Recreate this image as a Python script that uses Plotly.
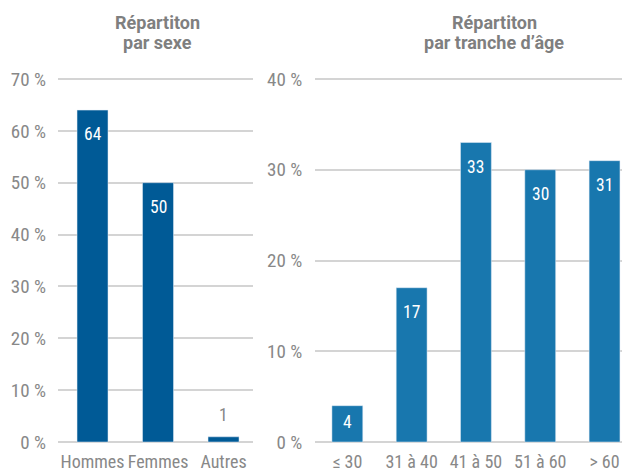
import plotly.graph_objects as go

sexe_categories = ["Hommes", "Femmes", "Autres"]
sexe_values = [64, 50, 1]
age_categories = ["≤ 30", "31 à 40", "41 à 50", "51 à 60", "> 60"]
age_values = [4, 17, 33, 30, 31]
sexe_ticks = [0, 10, 20, 30, 40, 50, 60, 70]
age_ticks = [0, 10, 20, 30, 40]

FONT = "Roboto Condensed, Roboto, sans-serif"
TITLE_FONT = "Roboto, sans-serif"
GREY = "#888888"
TITLE_GREY = "#7f7f7f"
C_LEFT = "#005a96"
C_RIGHT = "#1877ae"
W, H = 630, 475
OFF = 8  # page body margin

def fx(px):
    return (px - OFF) / W

def fy(px):
    return (H - (px - OFF)) / H

fig = go.Figure()
fig.add_trace(go.Bar(x=sexe_categories, y=sexe_values, marker_color=C_LEFT,
                     width=0.473, xaxis="x", yaxis="y", hoverinfo="skip"))
fig.add_trace(go.Bar(x=age_categories, y=age_values, marker_color=C_RIGHT,
                     width=0.48, xaxis="x2", yaxis="y2", hoverinfo="skip"))

annotations = []
def add_labels(cats, vals, xref, yref, ymax):
    for c, v in zip(cats, vals):
        px = v / ymax * 363
        if px < 20:
            annotations.append(dict(x=c, y=v, xref=xref, yref=yref, text=str(v),
                                    showarrow=False, yanchor="bottom", yshift=10,
                                    font=dict(family=FONT, size=17.5, color=GREY)))
        elif px < 50:
            annotations.append(dict(x=c, y=v / 2, xref=xref, yref=yref, text=str(v),
                                    showarrow=False, yanchor="middle", yshift=2,
                                    font=dict(family=FONT, size=17.5, color="white")))
        else:
            annotations.append(dict(x=c, y=v, xref=xref, yref=yref, text=str(v),
                                    showarrow=False, yanchor="middle", yshift=-24,
                                    font=dict(family=FONT, size=17.5, color="white")))

add_labels(sexe_categories, sexe_values, "x", "y", 70)
add_labels(age_categories, age_values, "x2", "y2", 40)

titles = [(157, ["Répartiton", "par sexe"]), (494, ["Répartiton", "par tranche d’âge"])]
for cx, lines in titles:
    for i, line in enumerate(lines):
        annotations.append(dict(x=fx(cx), y=fy(22 + 20 * i), xref="paper", yref="paper",
                                text=f"<b>{line}</b>", showarrow=False,
                                xanchor="center", yanchor="middle",
                                font=dict(family=TITLE_FONT, size=18, color=TITLE_GREY)))

# plot area (reference pixels): top gridline y=79, bottom y=442, padded 1.5px
ydom = [fy(442 + 1.5), fy(79 - 1.5)]
pad_l = 1.5 / (363 / 70)
pad_r = 1.5 / (363 / 40)
ytick_font = dict(family=FONT, size=19, color=GREY)
xtick_font = dict(family=FONT, size=18, color=GREY)

fig.update_layout(
    width=W, height=H,
    margin=dict(l=0, r=0, t=0, b=0, autoexpand=False),
    paper_bgcolor="white", plot_bgcolor="white",
    showlegend=False,
    annotations=annotations,
    xaxis=dict(domain=[fx(58), fx(253)], range=[-0.527, 2.45], showgrid=False,
               showline=False, zeroline=False, ticks="", tickfont=xtick_font,
               ticklabelstandoff=5, fixedrange=True, automargin=False),
    yaxis=dict(domain=ydom, range=[-pad_l, 70 + pad_l], tickmode="array", tickvals=sexe_ticks,
               ticktext=[f"{t} %" for t in sexe_ticks],
               showgrid=True, gridcolor="#d4d4d4", gridwidth=1.5, zeroline=False,
               showline=False, tickfont=ytick_font, ticklabelstandoff=11,
               fixedrange=True, automargin=False),
    xaxis2=dict(domain=[fx(315.2), fx(630)], range=[-0.5, 4.396], anchor="y2",
                showgrid=False, showline=False, zeroline=False, ticks="",
                tickfont=xtick_font, ticklabelstandoff=5, fixedrange=True, automargin=False),
    yaxis2=dict(domain=ydom, range=[-pad_r, 40 + pad_r], tickmode="array", tickvals=age_ticks,
                ticktext=[f"{t} %" for t in age_ticks],
                anchor="x2", showgrid=True, gridcolor="#d4d4d4", gridwidth=1.5,
                zeroline=False, showline=False, tickfont=ytick_font,
                ticklabelstandoff=12, fixedrange=True, automargin=False),
)

fig.write_html("out.html")
